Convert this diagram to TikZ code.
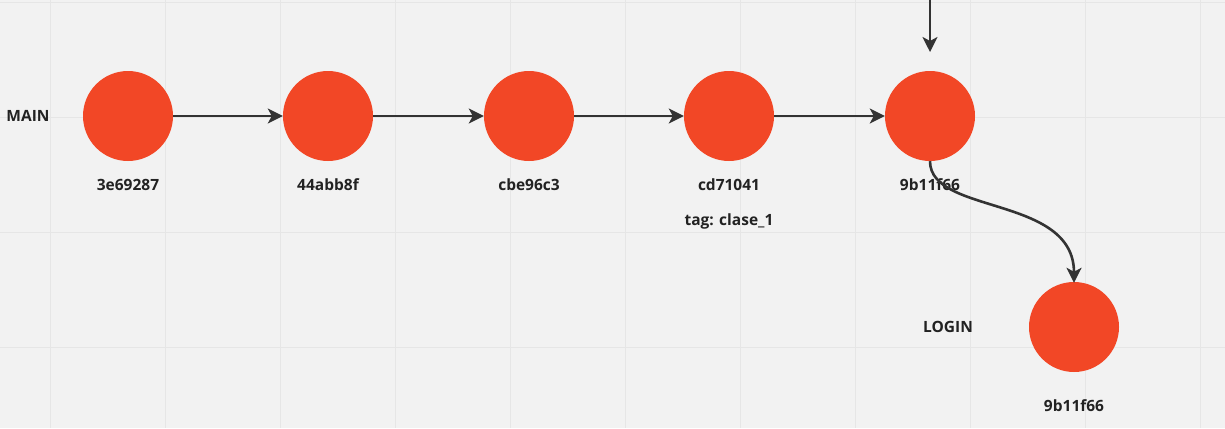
\documentclass[tikz,border=0pt]{standalone}
\usepackage{fontspec}
\setmainfont{Open Sans}
\usetikzlibrary{arrows.meta}
\definecolor{bg}{HTML}{F2F2F2}
\definecolor{gridc}{HTML}{E6E6E6}
\definecolor{commitc}{HTML}{F24726}
\definecolor{linec}{HTML}{333333}
\definecolor{textc}{HTML}{222222}
\begin{document}
\begin{tikzpicture}[x=1pt,y=-1pt,
  commit/.style={circle,fill=commitc,minimum size=90pt,inner sep=0pt},
  lbl/.style={font=\fontsize{15.5}{18}\selectfont\bfseries,text=textc,inner sep=0pt},
  conn/.style={draw=linec,line width=2.6pt,-{Stealth[length=15pt,width=15pt,inset=4pt]}}]
\fill[bg] (0,0) rectangle (1225,428);
\useasboundingbox (0,0) rectangle (1225,428);
\foreach \x in {50,165,280,395,510,625,740,855,970,1085,1200} \draw[gridc,line width=0.8pt] (\x,0) -- (\x,428);
\foreach \y in {2,117,232,347} \draw[gridc,line width=0.8pt] (0,\y) -- (1225,\y);
\node[commit] (c1) at (128,116) {};
\node[commit] (c2) at (328,116) {};
\node[commit] (c3) at (529,116) {};
\node[commit] (c4) at (729,116) {};
\node[commit] (c5) at (930,116) {};
\node[commit] (c6) at (1074,327) {};
\node[lbl] (l1) at (128,185) {3e69287};
\node[lbl] (l2) at (328,185) {44abb8f};
\node[lbl] (l3) at (529,185) {cbe96c3};
\node[lbl] (l4) at (729,185) {cd71041};
\node[lbl] (l5) at (930,185) {9b11f66};
\node[lbl] (tag) at (729,221) {tag: clase\_1};
\node[lbl] (main) at (28,116) {MAIN};
\node[lbl] (login) at (948,327) {LOGIN};
\node[lbl] (l6) at (1074,406) {9b11f66};
\coordinate (top) at (930,-3);
\coordinate (tipend) at (930,52);
\draw[conn] (c1) -- (c2);
\draw[conn] (c2) -- (c3);
\draw[conn] (c3) -- (c4);
\draw[conn] (c4) -- (c5);
\draw[conn] (top) -- (tipend);
\draw[conn] (c5.south) .. controls (930,215) and (1074,195) .. ([yshift=-1pt]c6.north);
\end{tikzpicture}
\end{document}
